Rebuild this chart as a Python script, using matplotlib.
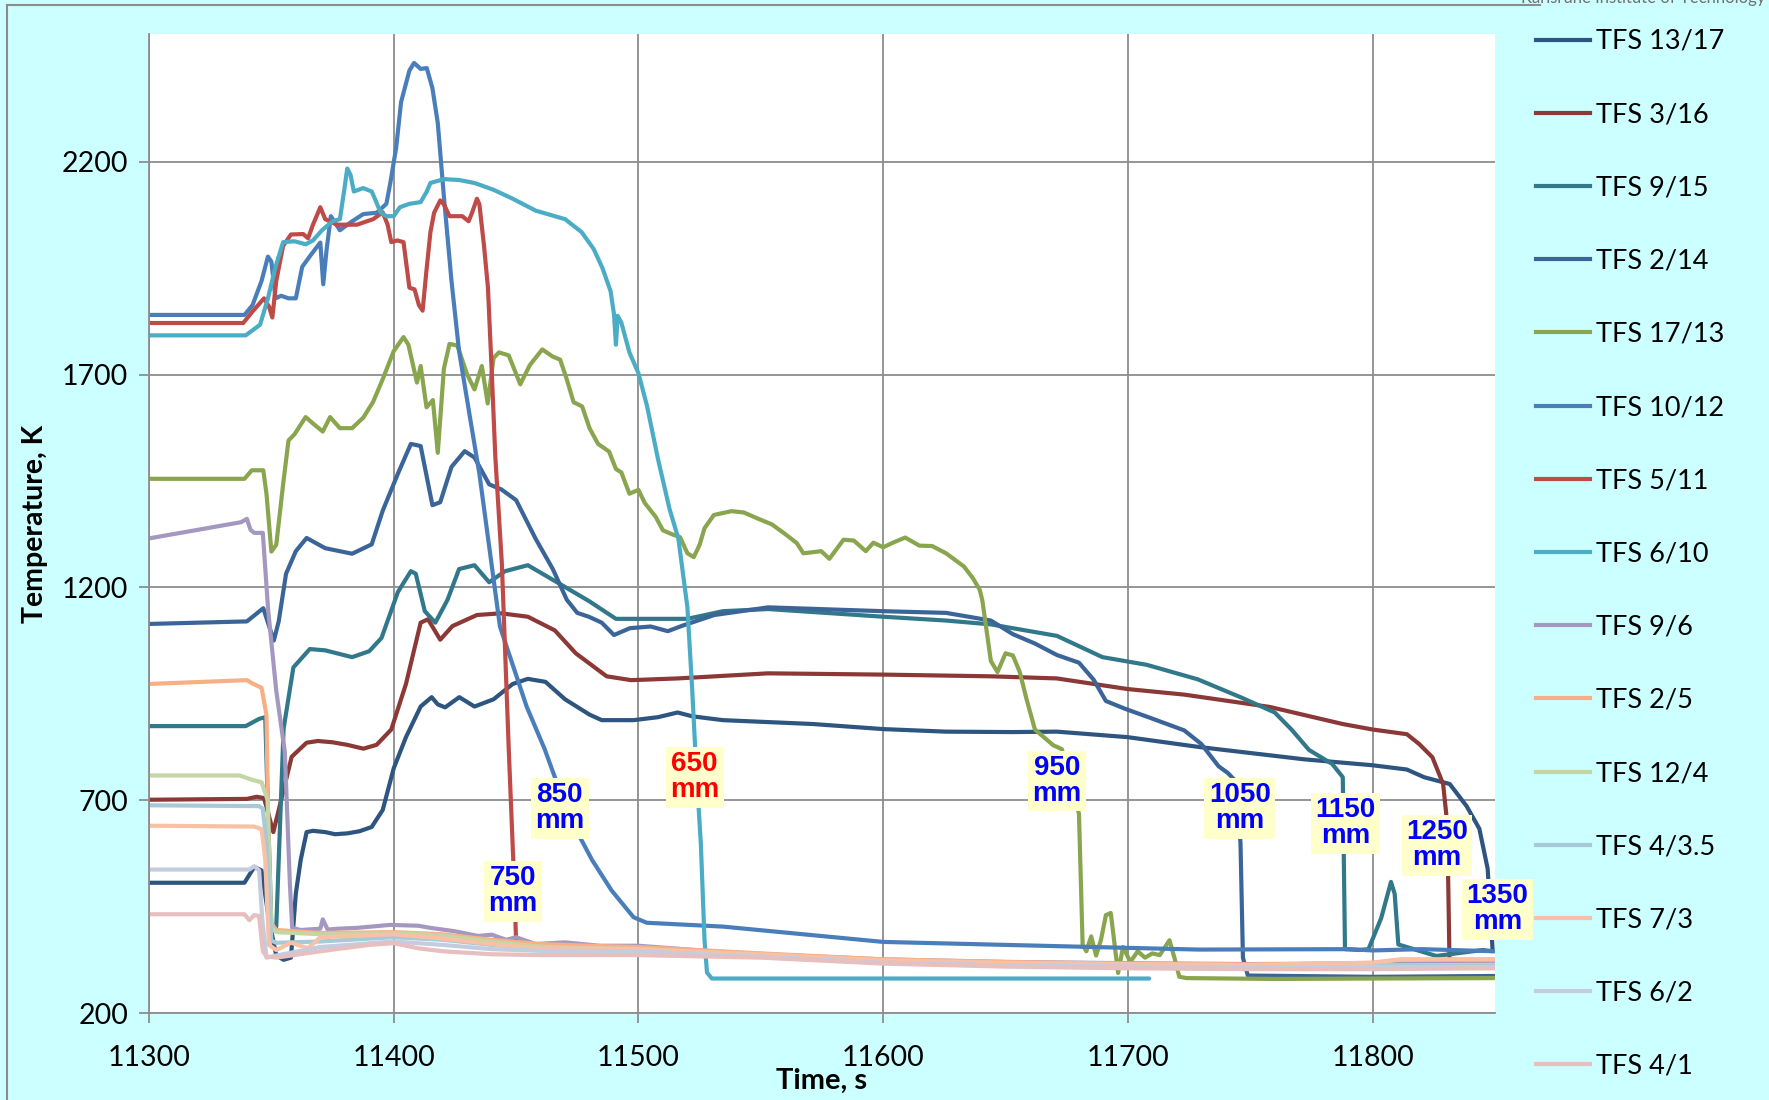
import matplotlib.pyplot as plt
from matplotlib.lines import Line2D

plt.rcParams['font.family'] = ['Lato', 'DejaVu Sans']

# ---- data (time in s, temperature in K) ----
labels = ['TFS 13/17', 'TFS 3/16', 'TFS 9/15', 'TFS 2/14', 'TFS 17/13',
          'TFS 10/12', 'TFS 5/11', 'TFS 6/10', 'TFS 9/6', 'TFS 2/5',
          'TFS 12/4', 'TFS 4/3.5', 'TFS 7/3', 'TFS 6/2', 'TFS 4/1']
colors = ['#2E5480', '#8C3836', '#31788A', '#3B6599', '#89A54E',
          '#4A7EBB', '#BE4B48', '#4AACC5', '#A598C0', '#F9AF85',
          '#C3D6A4', '#A8C9D8', '#F8C1A5', '#C4CCE0', '#E6BFBE']

t_13_17 = [11300, 11339, 11343, 11346, 11349, 11352, 11355, 11358, 11360, 11362, 11364.4, 11367, 11372, 11376,
           11381, 11386, 11391, 11395.5, 11400, 11405, 11411, 11415.5, 11418, 11421, 11426.8, 11433, 11440.8,
           11448.6, 11454.8, 11462, 11470, 11480, 11485, 11498, 11508, 11516, 11522, 11534.5, 11571, 11600,
           11625.6, 11653, 11671, 11700, 11729, 11740.8, 11772, 11800, 11814, 11821, 11831.5, 11838.4, 11843.6,
           11847, 11849]
T_13_17 = [506, 506, 543, 535, 420, 335, 325, 330, 481, 560, 625, 628, 625, 620, 622, 627, 637, 677, 775, 848,
           920, 942, 925, 918, 942, 920, 937, 973, 985, 978, 937, 901, 888, 888, 895, 906, 897, 888, 879, 867, 861,
           860, 861, 848, 825, 817, 796, 782, 772, 754, 738, 686, 633, 539, 350]

t_3_16 = [11300, 11340, 11344, 11347, 11350.8, 11355, 11358.3, 11364.4, 11369, 11375, 11381, 11387.6, 11393,
          11399, 11405, 11411, 11414, 11419, 11424, 11434, 11443.8, 11454.8, 11465.8, 11474.4, 11487, 11497,
          11516, 11553, 11600, 11644, 11671, 11700, 11723, 11758, 11787.7, 11800, 11814, 11819, 11824.4, 11828.8,
          11830.5, 11831.4, 11850]
T_3_16 = [701, 703, 708, 705, 625, 724, 802, 835, 839, 836, 830, 821, 830, 866, 973, 1117, 1125, 1077, 1109,
          1135, 1139, 1131, 1099, 1045, 991, 982, 986, 998, 995, 991, 986, 961, 948, 919, 879, 866, 855, 832, 801,
          738, 644, 324, 318]

t_9_15 = [11300, 11339.5, 11345, 11347.5, 11350, 11352, 11355, 11359, 11365.7, 11372, 11383, 11390, 11395,
          11401.7, 11407, 11409, 11412.7, 11417, 11422, 11426.7, 11433, 11439, 11445.5, 11454.8, 11467, 11480,
          11490.8, 11500, 11520, 11534.5, 11553, 11600, 11625.7, 11644, 11671, 11689.6, 11707.7, 11728.5, 11746,
          11760, 11767, 11774, 11783.5, 11787.8, 11788.7, 11794.7, 11798.3, 11803.5, 11807.5, 11809, 11810.5,
          11826, 11845, 11849]
T_9_15 = [874, 874, 891, 895, 403, 403, 868, 1012, 1055, 1052, 1036, 1050, 1081, 1189, 1238, 1232, 1144, 1117,
          1171, 1243, 1252, 1212, 1238, 1252, 1211, 1167, 1126, 1126, 1126, 1144, 1149, 1131, 1122, 1113, 1086,
          1036, 1018, 984, 942, 906, 865, 818, 785, 754, 350, 348, 350, 423, 508, 480, 361, 334, 348, 345]

t_2_14 = [11300, 11340, 11346.7, 11349, 11351, 11353, 11356, 11360, 11364.4, 11372, 11383, 11391, 11395.5,
          11401.7, 11407, 11411, 11415.8, 11419, 11423.6, 11429, 11433, 11439, 11444, 11450, 11458, 11465,
          11470.7, 11475, 11479.7, 11485, 11490, 11496.5, 11505, 11512, 11518, 11531, 11553, 11600, 11625.7,
          11644, 11653, 11662, 11671, 11680, 11686, 11691, 11698.7, 11709.3, 11723, 11730, 11737, 11740.8,
          11744, 11746, 11747, 11749, 11800, 11850]
T_2_14 = [1114, 1120, 1151, 1110, 1075, 1120, 1232, 1285, 1316, 1292, 1279, 1301, 1380, 1467, 1537, 1532, 1393,
          1400, 1483, 1520, 1505, 1442, 1430, 1405, 1314, 1243, 1171, 1140, 1131, 1117, 1088, 1104, 1108, 1097,
          1110, 1135, 1153, 1144, 1140, 1122, 1090, 1068, 1041, 1023, 983, 933, 915, 893, 864, 832, 780, 764, 745,
          600, 330, 288, 285, 287]

t_17_13 = [11300, 11339, 11342, 11346.7, 11348, 11350, 11352, 11354.8, 11357, 11359.5, 11364, 11367, 11371,
           11374, 11378, 11383, 11387.6, 11391.6, 11395.5, 11400, 11404, 11406, 11409.5, 11411, 11413.4, 11416,
           11418, 11420.5, 11422.8, 11426, 11430, 11433, 11436, 11438.4, 11440.8, 11443, 11447, 11451.7, 11455.6,
           11460.7, 11465, 11468, 11470.7, 11473.5, 11477, 11480, 11483.5, 11488, 11490.8, 11493, 11496.3, 11500,
           11502.6, 11507, 11510, 11513.6, 11517, 11520, 11522.6, 11525, 11527, 11530.8, 11538, 11543, 11549,
           11554.5, 11560, 11564.7, 11567.4, 11574.7, 11578, 11583.8, 11588, 11592.9, 11596, 11600, 11604, 11609,
           11614.8, 11620, 11625.7, 11633, 11636.6, 11639.4, 11640.5, 11644, 11646.7, 11650, 11653, 11655.8,
           11658.6, 11662, 11669.5, 11673, 11680, 11681.5, 11683, 11685, 11687, 11689, 11691, 11693, 11695,
           11696, 11698, 11701, 11704, 11707, 11710, 11713, 11717, 11719, 11721, 11724, 11760, 11800, 11850]
T_17_13 = [1455, 1455, 1475, 1475, 1420, 1284, 1300, 1442, 1545, 1560, 1600, 1585, 1566, 1600, 1574, 1574, 1599,
           1636, 1689, 1755, 1788, 1770, 1681, 1720, 1623, 1640, 1516, 1714, 1772, 1768, 1700, 1665, 1720, 1632,
           1739, 1752, 1745, 1677, 1722, 1759, 1742, 1735, 1689, 1635, 1625, 1574, 1537, 1519, 1478, 1470, 1420,
           1429, 1398, 1366, 1334, 1325, 1318, 1280, 1271, 1300, 1339, 1370, 1379, 1376, 1361, 1348, 1325, 1304,
           1280, 1285, 1267, 1312, 1310, 1285, 1305, 1294, 1305, 1317, 1298, 1297, 1280, 1249, 1222, 1195, 1170,
           1027, 1001, 1045, 1040, 1001, 937, 866, 829, 820, 668, 360, 345, 380, 335, 372, 430, 435, 340, 294, 355,
           320, 345, 330, 340, 336, 371, 330, 285, 282, 280, 281, 282]

t_10_12 = [11300, 11339, 11342.3, 11346, 11348.6, 11350, 11351.7, 11354, 11357, 11360, 11362.6, 11366, 11368.9,
           11370, 11371.2, 11372.5, 11374.3, 11378, 11383, 11387.6, 11393, 11397, 11398.6, 11401, 11403, 11406.4,
           11408.3, 11411, 11413.5, 11415.8, 11418, 11420.5, 11423.6, 11426.7, 11431.4, 11435, 11443.4, 11454.3,
           11461.6, 11468, 11476, 11481, 11489, 11498, 11503.4, 11534.5, 11600, 11650, 11729, 11790, 11800, 11820,
           11850]
T_10_12 = [1840, 1840, 1863, 1920, 1977, 1965, 1879, 1885, 1879, 1879, 1953, 1980, 2002, 2010, 1912, 1990, 2072,
           2039, 2060, 2077, 2080, 2101, 2150, 2233, 2340, 2414, 2432, 2418, 2420, 2373, 2291, 2118, 1920, 1755,
           1591, 1467, 1108, 920, 821, 720, 614, 560, 488, 425, 412, 403, 367, 360, 349, 350, 347, 350, 345]

t_5_11 = [11300, 11338.5, 11342, 11347, 11349, 11350.4, 11352, 11354.8, 11358, 11363, 11365, 11367, 11370, 11372,
          11376.7, 11385, 11391.6, 11395.5, 11397.5, 11399, 11401.5, 11404, 11406.4, 11408.5, 11410.3, 11411.8,
          11413.3, 11415, 11416.5, 11419, 11420.5, 11422.8, 11428, 11430.6, 11432, 11434, 11435, 11436.9, 11438.5,
          11440, 11441.5, 11444.2, 11447, 11448.8, 11450, 11452]
T_5_11 = [1821, 1821, 1846, 1879, 1860, 1834, 1920, 2002, 2029, 2030, 2020, 2052, 2093, 2065, 2052, 2052, 2065,
          2081, 2052, 2011, 2015, 2011, 1904, 1900, 1863, 1850, 1940, 2035, 2080, 2109, 2100, 2072, 2072, 2060,
          2080, 2113, 2100, 2002, 1904, 1714, 1508, 1254, 820, 566, 371, 350]

t_6_10 = [11300, 11339.5, 11345.4, 11348.6, 11351.7, 11354.8, 11359.5, 11364, 11367, 11370.7, 11375, 11378,
          11379.8, 11381, 11382.3, 11383.7, 11387.5, 11391, 11392.3, 11394.6, 11397, 11400, 11402.5, 11406.4,
          11411, 11413.5, 11415, 11420.5, 11426.7, 11433, 11440.8, 11448.6, 11458, 11470, 11476.7, 11481.7,
          11485.3, 11488.6, 11490, 11490.8, 11491.5, 11493, 11496.3, 11500, 11503.5, 11508, 11512.7, 11516.3,
          11520, 11522, 11523.6, 11525.5, 11527, 11528, 11530, 11708.7]
T_6_10 = [1792, 1792, 1817, 1879, 1953, 2011, 2013, 2006, 2015, 2039, 2060, 2065, 2134, 2184, 2170, 2130, 2138,
          2130, 2113, 2081, 2072, 2072, 2093, 2101, 2105, 2130, 2150, 2159, 2157, 2150, 2134, 2113, 2085, 2065,
          2035, 1995, 1950, 1896, 1842, 1770, 1838, 1822, 1752, 1703, 1626, 1501, 1384, 1315, 1153, 956, 775, 597,
          371, 295, 281, 281]

t_9_6 = [11300, 11337.6, 11340, 11341.5, 11343, 11346.5, 11348.7, 11352, 11355.5, 11357.6, 11358.5, 11362, 11370,
         11371, 11373, 11377, 11385, 11398.6, 11410, 11415, 11425, 11434.5, 11440, 11446, 11450, 11458, 11470,
         11484, 11500, 11530, 11560, 11600, 11650, 11700, 11750, 11800, 11850]
T_9_6 = [1315, 1353, 1361, 1335, 1328, 1328, 1146, 957, 813, 500, 400, 395, 398, 420, 396, 398, 400, 407, 405, 400,
         392, 381, 384, 372, 378, 362, 366, 358, 358, 345, 336, 326, 320, 317, 315, 316, 318]

t_2_5 = [11300, 11340, 11342, 11346, 11348, 11349.3, 11352, 11370, 11400, 11420, 11440, 11460, 11480, 11500,
         11550, 11600, 11650, 11700, 11750, 11800, 11810, 11850]
T_2_5 = [973, 982, 975, 964, 900, 416, 395, 388, 390, 385, 372, 362, 358, 355, 340, 326, 320, 316, 314, 318, 325,
         326]

t_12_4 = [11300, 11337, 11342, 11346, 11348.5, 11350, 11352, 11370, 11400, 11420, 11440, 11460, 11480, 11500,
          11550, 11600, 11650, 11700, 11750, 11800, 11850]
T_12_4 = [758, 758, 748, 742, 700, 400, 390, 385, 388, 382, 368, 356, 352, 350, 336, 322, 316, 313, 311, 312, 313]

t_4_35 = [11300, 11345, 11346.5, 11348, 11350, 11352, 11370, 11400, 11420, 11440, 11460, 11480, 11500, 11550,
          11600, 11650, 11700, 11750, 11800, 11850]
T_4_35 = [688, 686, 680, 600, 370, 365, 368, 378, 372, 360, 352, 350, 348, 334, 320, 314, 311, 309, 310, 310]

t_7_3 = [11300, 11343, 11346, 11347.5, 11349, 11352, 11358, 11365, 11370, 11400, 11420, 11440, 11460, 11480,
         11500, 11550, 11600, 11650, 11700, 11750, 11800, 11812, 11850]
T_7_3 = [640, 638, 632, 560, 360, 348, 365, 352, 378, 385, 375, 362, 352, 352, 350, 338, 324, 318, 315, 313, 318,
         326, 326]

t_6_2 = [11300, 11341, 11343, 11345, 11346.3, 11348, 11352, 11370, 11400, 11420, 11440, 11460, 11480, 11500,
         11550, 11600, 11650, 11700, 11750, 11800, 11850]
T_6_2 = [537, 537, 545, 535, 420, 330, 335, 355, 368, 360, 350, 346, 346, 345, 332, 318, 312, 309, 307, 308, 308]

t_4_1 = [11300, 11339, 11341, 11343, 11345, 11346.5, 11348, 11352, 11370, 11390, 11400, 11410, 11420, 11440,
         11460, 11480, 11500, 11550, 11600, 11650, 11700, 11750, 11800, 11850]
T_4_1 = [432, 432, 418, 430, 428, 345, 333, 330, 345, 360, 364, 352, 345, 338, 336, 336, 336, 330, 316, 309, 305,
         303, 303, 305]

times = [t_13_17, t_3_16, t_9_15, t_2_14, t_17_13, t_10_12, t_5_11, t_6_10,
         t_9_6, t_2_5, t_12_4, t_4_35, t_7_3, t_6_2, t_4_1]
temps = [T_13_17, T_3_16, T_9_15, T_2_14, T_17_13, T_10_12, T_5_11, T_6_10,
         T_9_6, T_2_5, T_12_4, T_4_35, T_7_3, T_6_2, T_4_1]

# elevation labels (text, time, temperature, colour)
notes = ['850\nmm', '750\nmm', '650\nmm', '950\nmm', '1050\nmm', '1150\nmm', '1250\nmm', '1350\nmm']
note_t = [11467.8, 11448.6, 11523, 11671, 11745.7, 11789, 11826.3, 11851]
note_T = [681, 486, 754, 745, 681, 646, 594, 444]
note_c = ['#0000FF', '#0000FF', '#FF0000', '#0000FF', '#0000FF', '#0000FF', '#0000FF', '#0000FF']

# ---- figure ----
fig = plt.figure(figsize=(17.69, 11), dpi=100)
fig.patch.set_facecolor('#CCFFFF')
ax = fig.add_axes([149/1769, 1-1013/1100, (1495-149)/1769, (1013-34)/1100])
ax.set_facecolor('white')

for t, T, lab, c in zip(times, temps, labels, colors):
    ax.plot(t, T, color=c, lw=3.0, label=lab, solid_joinstyle='round', solid_capstyle='round')

for txt, x, y, c in zip(notes, note_t, note_T, note_c):
    ax.text(x, y, txt, color=c, fontsize=20, fontweight='bold', family=['Liberation Sans', 'DejaVu Sans'],
            ha='center', va='center', linespacing=1.0, zorder=10, clip_on=False,
            bbox=dict(boxstyle='square,pad=0.16', fc='#FFFFCC', ec='none'))

ax.set_xlim(11300, 11850)
ax.set_ylim(200, 2500)
ax.set_xticks([11300, 11400, 11500, 11600, 11700, 11800])
ax.set_yticks([200, 700, 1200, 1700, 2200])
ax.grid(True, color='#8C8C8C', lw=1.3)
ax.set_axisbelow(True)
for s in ['top', 'right']:
    ax.spines[s].set_visible(False)
for s in ['left', 'bottom']:
    ax.spines[s].set_color('#8C8C8C')
    ax.spines[s].set_linewidth(1.3)
ax.tick_params(axis='both', direction='out', length=7, width=1.3, color='#8C8C8C', labelsize=20.5)
ax.tick_params(axis='x', pad=16)
ax.tick_params(axis='y', pad=8)

ax.set_xlabel('Time, s', fontsize=21, fontweight='bold', labelpad=-2)
ax.set_ylabel('Temperature, K', fontsize=20.5, fontweight='bold', labelpad=10)

handles = [Line2D([0], [0], color=c, lw=3.0) for c in colors]
fig.legend(handles, labels, loc='upper left', bbox_to_anchor=(1536/1769, 1-29/1100),
           frameon=False, fontsize=19.5, handlelength=2.0, handletextpad=0.2,
           labelspacing=1.78, borderpad=0, borderaxespad=0)

# outer frame and cut-off header text
fig.add_artist(Line2D([7/1769, 7/1769], [0, 1-5/1100], color='#8C8C8C', lw=1.5))
fig.add_artist(Line2D([7/1769, 1540/1769], [1-5/1100, 1-5/1100], color='#8C8C8C', lw=1.5))
fig.text(1765/1769, 1-3/1100, 'Karlsruhe Institute of Technology', fontsize=12, color='#707070',
         ha='right', va='baseline')

fig.savefig('out.png', dpi=100, facecolor=fig.get_facecolor())
